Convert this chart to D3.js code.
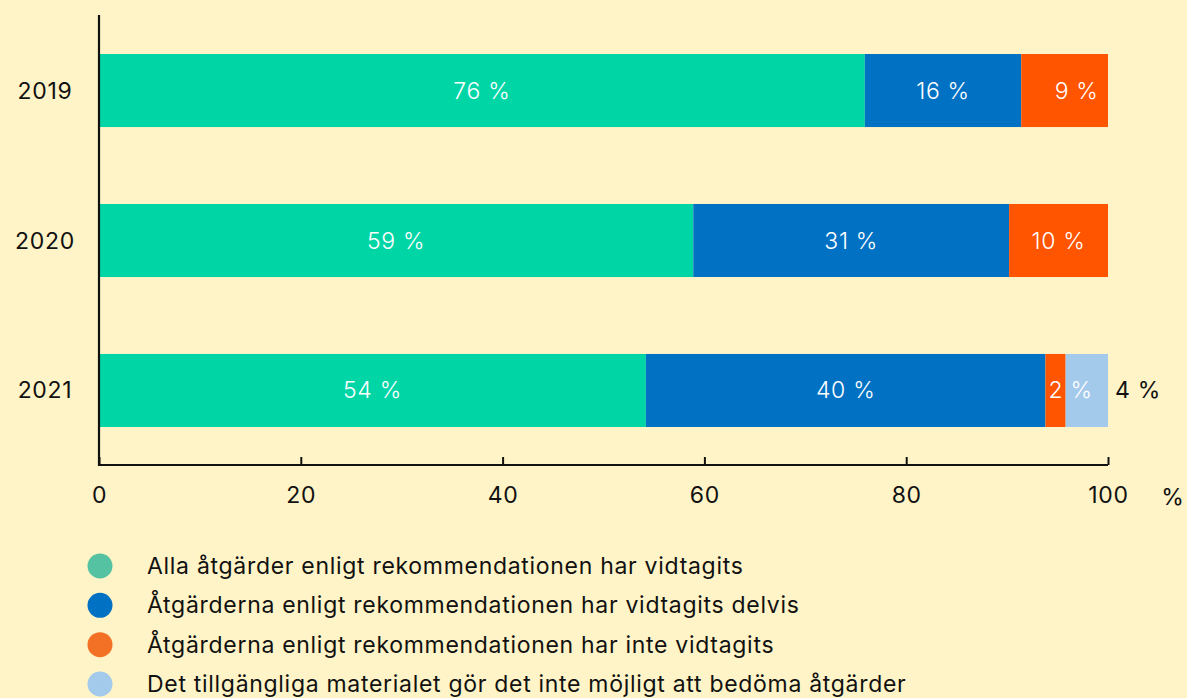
<!DOCTYPE html>
<html><head><meta charset="utf-8">
<script src="https://cdn.jsdelivr.net/npm/d3@7"></script>
<style>
html,body{margin:0;padding:0;background:#FFF4C7;}
svg{display:block;font-family:Inter,"Noto Sans",sans-serif;letter-spacing:0.7px;}
</style></head>
<body><svg id="c" width="1187" height="698"></svg>
<script>
const years = ["2019","2020","2021"];
const seriesNames = [
  "Alla åtgärder enligt rekommendationen har vidtagits",
  "Åtgärderna enligt rekommendationen har vidtagits delvis",
  "Åtgärderna enligt rekommendationen har inte vidtagits",
  "Det tillgängliga materialet gör det inte möjligt att bedöma åtgärder"
];
const allDone   = [75.9, 58.9, 54.2];
const partly    = [15.5, 31.3, 39.6];
const notDone   = [8.6, 9.8, 2.0];
const unknown   = [0, 0, 4.2];
const labelsAll = ["76 %","59 %","54 %"];
const labelsPart= ["16 %","31 %","40 %"];
const labelsNot = ["9 %","10 %","2 %"];
const labelsUnk = ["","","4 %"];
const xTicks = [0,20,40,60,80,100];

const barColors = ["#00D5A6","#0071C3","#FF5400","#A3C9EB"];
const legendColors = ["#55C3A1","#0071C3","#F37124","#A3C9EB"];

const svg = d3.select("#c");
const x = d3.scaleLinear().domain([0,100]).range([99,1108]);
const y = d3.scaleBand().domain(years).range([54,427]).paddingInner(0.513).paddingOuter(0);

const series = [allDone, partly, notDone, unknown];
const labels = [labelsAll, labelsPart, labelsNot, labelsUnk];

years.forEach((yr,i)=>{
  let acc = 0;
  series.forEach((s,k)=>{
    const v = s[i];
    if(v<=0){return;}
    const x0 = x(acc), x1 = x(acc+v);
    svg.append("rect").attr("x",x0).attr("y",y(yr)).attr("width",x1-x0).attr("height",y.bandwidth()).attr("fill",barColors[k]);
    acc += v;
  });
});
// labels
years.forEach((yr,i)=>{
  let acc = 0;
  series.forEach((s,k)=>{
    const v = s[i];
    if(v<=0){return;}
    const x0 = x(acc), x1 = x(acc+v);
    const t = labels[k][i];
    const cy = y(yr)+y.bandwidth()/2;
    if(k===3){
      svg.append("text").attr("x",x1+7).attr("y",cy+8).attr("fill","#111").attr("font-size",23).text(t);
    } else if(v<5){
      svg.append("text").attr("x",x0+3).attr("y",cy+8).attr("fill","#fff").attr("font-size",23).attr("font-weight",300).text(t);
    } else {
      svg.append("text").attr("x",(x0+x1)/2 + (k===2 && v<9 ? 12:0)).attr("y",cy+8).attr("text-anchor","middle").attr("fill","#fff").attr("font-size",23).attr("font-weight",300).text(t);
    }
    acc += v;
  });
});

// year labels
years.forEach(yr=>{
  svg.append("text").attr("x",45).attr("y",y(yr)+y.bandwidth()/2+8).attr("text-anchor","middle").attr("font-size",23).attr("fill","#111").text(yr);
});

// axes
const axisG = svg.append("g").attr("transform","translate(0,465)");
axisG.call(d3.axisBottom(x).tickValues(xTicks).tickSize(-8).tickPadding(22).tickFormat(d3.format("d")));
axisG.select(".domain").attr("d","M99,0H1108").attr("stroke","#111").attr("stroke-width",2.2);
axisG.selectAll(".tick line").attr("stroke","#111").attr("stroke-width",2);
axisG.selectAll(".tick text").attr("font-size",23).attr("fill","#111").attr("font-family","Inter,'Noto Sans',sans-serif");
svg.append("line").attr("x1",99).attr("x2",99).attr("y1",15).attr("y2",466).attr("stroke","#111").attr("stroke-width",2.2);
svg.append("text").attr("x",1173).attr("y",505).attr("text-anchor","middle").attr("font-size",23).attr("fill","#111").text("%");

// legend
const ly = d3.scalePoint().domain(seriesNames).range([566,684]);
seriesNames.forEach((n,k)=>{
  svg.append("circle").attr("cx",100).attr("cy",ly(n)).attr("r",12.5).attr("fill",legendColors[k]);
  svg.append("text").attr("x",147).attr("y",ly(n)+8).attr("font-size",23).attr("fill","#111").text(n);
});
</script></body></html>
